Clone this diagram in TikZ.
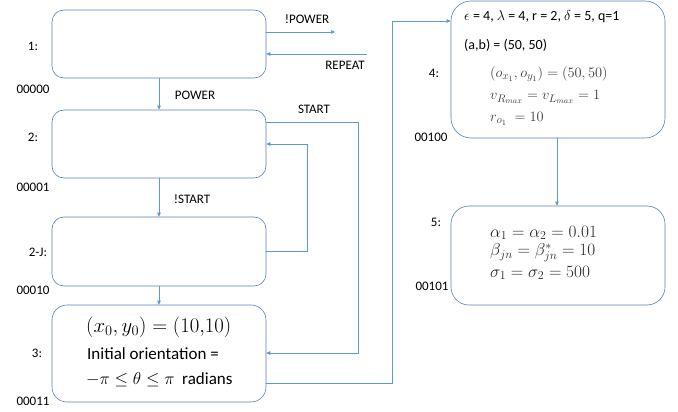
\documentclass[tikz,border=0pt]{standalone}
\usepackage{fontspec}
\setmainfont{Carlito}
\usetikzlibrary{arrows.meta}
\definecolor{arrowblue}{RGB}{91,155,213}
\definecolor{boxblue}{RGB}{84,130,178}
\definecolor{mathgray}{RGB}{60,60,60}
\begin{document}
\begin{tikzpicture}[x=1pt,y=-1pt,
  box/.style={draw=boxblue, line width=0.6pt, rounded corners=12pt, inner sep=0pt, minimum width=214pt},
  conn/.style={draw=arrowblue, line width=0.6pt},
  arr/.style={conn, -{Triangle[length=4pt,width=3.5pt]}},
  lab/.style={font=\fontsize{13}{15}\selectfont, inner sep=0pt},
  txt/.style={font=\fontsize{14}{16}\selectfont, inner sep=0pt, anchor=west},
  big/.style={font=\fontsize{17}{20}\selectfont, inner sep=0pt, anchor=west},
  eq/.style={font=\fontsize{15.5}{18}\selectfont, inner sep=0pt, anchor=west, text=mathgray},
  eqb/.style={font=\fontsize{17}{20}\selectfont, inner sep=0pt, anchor=west, text=black!85},
]
\useasboundingbox (0,0) rectangle (678,412);

% boxes
\node[box, minimum height=68pt] (b1) at (159,44) {};
\node[box, minimum height=68pt] (b2) at (159,144) {};
\node[box, minimum height=69pt] (b2j) at (159,251.5) {};
\node[box, minimum height=97pt, rounded corners=15pt] (b3) at (159,353.5) {};
\node[box, minimum height=137pt, rounded corners=20pt] (b4) at (558,69.5) {};
\node[box, minimum height=99pt, rounded corners=18pt] (b5) at (558,255.5) {};

% state labels
\node[lab] (l1) at (33,46) {1:};
\node[lab] (c1) at (33,89) {00000};
\node[lab] (l2) at (33,137) {2:};
\node[lab] (c2) at (33,187) {00001};
\node[lab] (l2j) at (38,252) {2-J:};
\node[lab] (c2j) at (33,290) {00010};
\node[lab] (l3) at (37,353) {3:};
\node[lab] (c3) at (33,401) {00011};
\node[lab] (l4) at (434,73) {4:};
\node[lab] (c4) at (431,137) {00100};
\node[lab] (l5) at (436,222) {5:};
\node[lab] (c5) at (432,286) {00101};

% transition labels
\node[lab] (tpow) at (195,95) {POWER};
\node[lab] (tstart) at (314,109) {START};
\node[lab] (tnstart) at (192,199) {!START};
\node[lab] (tnpow) at (307,19) {!POWER};
\node[lab] (trep) at (345,65) {REPEAT};

% box 3 text
\node[big, font=\fontsize{19.5}{22}\selectfont] (t31) at (86,327) {$(x_0,y_0) = (10{,}10)$};
\node[big] (t32) at (87,354) {Initial orientation =};
\node[big] (t33) at (86,380) {$-\pi \le \theta \le \pi$\ \ radians};

% box 4 text
\node[txt] (t41) at (464,17) {$\epsilon$ = 4, $\lambda$ = 4, r = 2, $\delta$ = 5, q=1};
\node[txt] (t42) at (464,45) {(a,b) = (50, 50)};
\node[eq] (t43) at (490,74) {$(o_{x_1},o_{y_1}) = (50,50)$};
\node[eq] (t44) at (490,97) {$v_{R_{max}} = v_{L_{max}} = 1$};
\node[eq] (t45) at (490,119) {$r_{o_1}\ = 10$};

% box 5 text
\node[eqb] (t51) at (490,233) {$\alpha_1 = \alpha_2 = 0.01$};
\node[eqb] (t52) at (490,253) {$\beta_{jn} = \beta^*_{jn} = 10$};
\node[eqb] (t53) at (490,273) {$\sigma_1 = \sigma_2 = 500$};

% free ends
\coordinate (pwend) at (335,32);
\coordinate (repstart) at (367,54);

% connectors
\draw[arr] (b1.east |- 0,32) -- (pwend);
\draw[arr] (repstart) -- (b1.east |- 0,54);
\draw[arr] (b1.south) -- (b2.north);
\draw[arr] (b2.south) -- (b2j.north);
\draw[arr] (b2j.south) -- (b3.north);
\draw[arr] (b2.east |- 0,122) -- (358,122) -- (358,353) -- (b3.east |- 0,353);
\draw[arr] (b2j.east |- 0,251) -- (307,251) -- (307,144) -- (b2.east |- 0,144);
\draw[arr] (b3.east |- 0,383) -- (392,383) -- (392,21) -- (b4.west |- 0,21);
\draw[arr] (b4.south -| 557,0) -- (b5.north -| 557,0);
\end{tikzpicture}
\end{document}
